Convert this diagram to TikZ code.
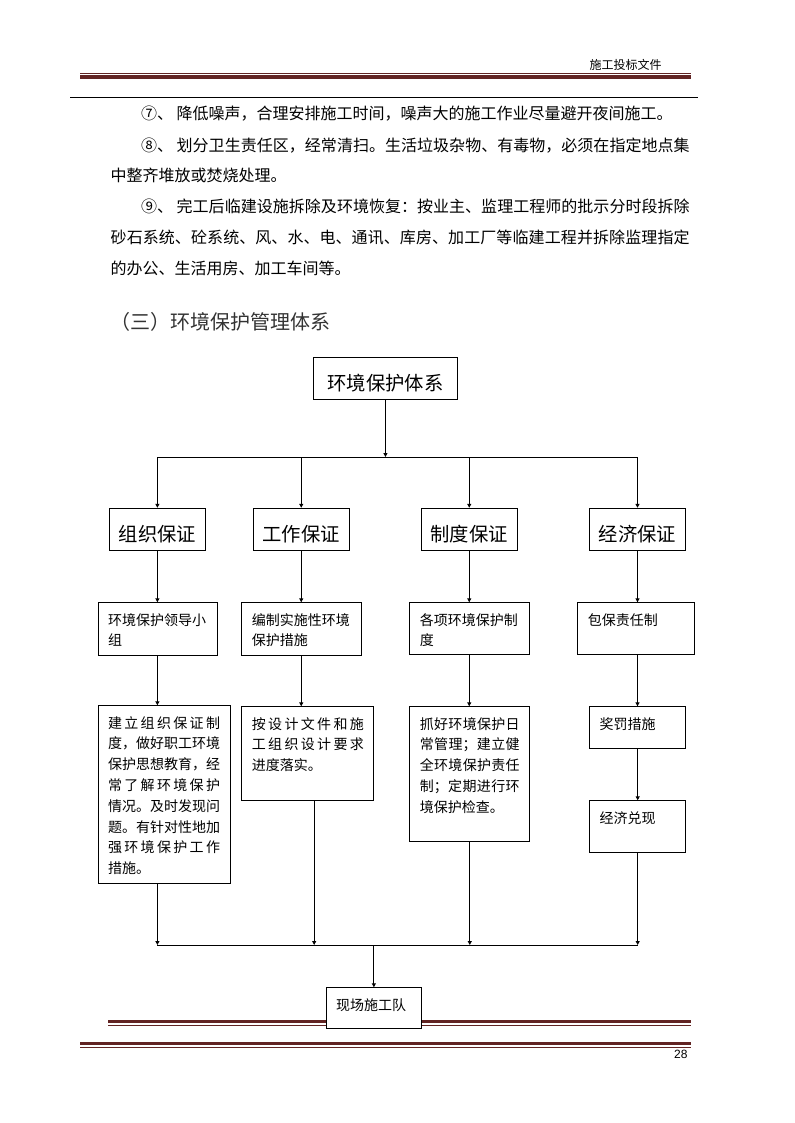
\documentclass[tikz,border=0pt]{standalone}
\usepackage{fontspec}
\setmainfont{Noto Sans CJK SC}
\newfontfamily\numfont{Liberation Sans}
\usetikzlibrary{arrows.meta}
\XeTeXlinebreaklocale "zh"
\XeTeXlinebreakskip=0pt plus 2pt minus 0.6pt
\definecolor{hdrred}{HTML}{622423}

\begin{document}
\begin{tikzpicture}[x=0.75pt,y=-0.75pt,
  arr/.style={line width=0.75pt,-{Triangle[length=3pt,width=3pt]}},
  bigbox/.style={draw,line width=0.75pt,inner sep=0pt,minimum height=31.5pt,
    text height=19pt,text depth=0pt,font=\fontsize{14.5pt}{17pt}\selectfont},
  smallbox/.style={draw,line width=0.75pt,fill=white,anchor=north west,inner xsep=7.5pt,
    inner ysep=0pt,text height=16.75pt,align=left,font=\fontsize{10.5pt}{15.6pt}\selectfont},
  para/.style={anchor=base west,inner sep=0pt,text width=434.25pt,align=justify,
    font=\fontsize{12pt}{23pt}\selectfont}]
\useasboundingbox (0,0) rectangle (794,1123);

% Header
\node[anchor=base west,inner sep=0pt,font=\fontsize{9pt}{11pt}\selectfont] (hdr) at (589.3,69.6) {施工投标文件};
\draw[hdrred,line width=0.75pt] (80,73.3) -- (690.7,73.3);
\draw[hdrred,line width=3.2pt] (80,77.2) -- (690.7,77.2);
\draw[line width=0.8pt] (70,97.3) -- (698.3,97.3);

% Text
\node[para] (p7) at (110.4,119.4) {\hspace*{22.8pt}⑦、 降低噪声，合理安排施工时间，噪声大的施工作业尽量避开夜间施工。};
\node[para] (p8) at (110.4,151.1) {\hspace*{22.8pt}⑧、 划分卫生责任区，经常清扫。生活垃圾杂物、有毒物，必须在指定地点集\linebreak 中整齐堆放或焚烧处理。};
\node[para] (p9) at (110.4,212.8) {\hspace*{22.8pt}⑨、 完工后临建设施拆除及环境恢复：按业主、监理工程师的批示分时段拆除\linebreak 砂石系统、砼系统、风、水、电、通讯、库房、加工厂等临建工程并拆除监理指定\linebreak 的办公、生活用房、加工车间等。};
\node[anchor=base west,inner sep=0pt,text=black!80,font=\fontsize{15pt}{18pt}\selectfont] (head) at (110,329.3) {（三）环境保护管理体系};

% Footer
\draw[hdrred,line width=2.5pt] (108.3,1021.7) -- (690.7,1021.7);
\draw[hdrred,line width=0.75pt] (108.3,1025.2) -- (690.7,1025.2);
\draw[hdrred,line width=2.7pt] (80,1043.5) -- (690.7,1043.5);
\draw[hdrred,line width=0.75pt] (80,1047.2) -- (690.7,1047.2);
\node[anchor=base east,inner sep=0pt,font=\numfont\fontsize{9pt}{11pt}\selectfont] (pg) at (687.7,1058.8) {28};

% Top box
\node[bigbox,minimum width=108.2pt] (T) at (385.45,378) {环境保护体系};

% Level 1
\node[bigbox,minimum width=72pt] (A1) at (157.4,529.3) {组织保证};
\node[bigbox,minimum width=72pt] (B1) at (301.25,529.3) {工作保证};
\node[bigbox,minimum width=72pt] (C1) at (469.25,529.3) {制度保证};
\node[bigbox,minimum width=72pt] (D1) at (637.5,529.3) {经济保证};

% Level 2
\node[smallbox,text width=74.85pt,text depth=23pt] (A2) at (97.5,602.3) {环境保护领导小\\组};
\node[smallbox,text width=74.8pt,text depth=23pt] (B2) at (241.4,602.3) {编制实施性环境\\保护措施};
\node[smallbox,text width=74.8pt,text depth=22.25pt] (C2) at (409.4,602.3) {各项环境保护制\\度};
\node[smallbox,text width=72.3pt,text depth=22.25pt] (D2) at (577.3,602.3) {包保责任制};

% Level 3
\node[smallbox,align=justify,text width=84pt,text depth=116.75pt] (A3) at (97.5,705.3) {建立组织保证制\linebreak 度，做好职工环境\linebreak 保护思想教育，经\linebreak 常了解环境保护\linebreak 情况。及时发现问\linebreak 题。有针对性地加\linebreak 强环境保护工作\linebreak 措施。};
\node[smallbox,align=justify,text width=84pt,text depth=53.75pt] (B3) at (241.4,706.3) {按设计文件和施\linebreak 工组织设计要求\linebreak 进度落实。};
\node[smallbox,align=justify,text width=74.8pt,text depth=84.5pt] (C3) at (409.4,706.3) {抓好环境保护日\linebreak 常管理；建立健\linebreak 全环境保护责任\linebreak 制；定期进行环\linebreak 境保护检查。};
\node[smallbox,text width=57pt,text depth=14.75pt] (D3) at (589.2,706.3) {奖罚措施};
\node[smallbox,text width=57pt,text depth=22.25pt] (E3) at (589.2,800.3) {经济兑现};

% Bottom box
\node[smallbox,text width=56.8pt,text depth=14pt] (F) at (325.5,987.3) {现场施工队};

% Upper bus
\coordinate (busL) at (157.4,457);
\coordinate (busR) at (637.5,457);
\draw[arr] (T.south) -- (T.south |- busL);
\draw[line width=0.75pt] (busL) -- (busR);
\foreach \n in {A,B,C,D} {
  \draw[arr] (\n1.north |- busL) -- (\n1.north);
  \draw[arr] (\n1.south) -- (\n1.south |- \n2.north);
  \draw[arr] (\n1.south |- \n2.south) -- (\n1.south |- \n3.north);
}
\draw[arr] (D3.south) -- (E3.north);

% Lower bus
\coordinate (busBL) at (157.4,945);
\coordinate (busBR) at (637.5,945);
\draw[arr] (A1.south |- A3.south) -- (A1.south |- busBL);
\draw[arr] ([xshift=4.7pt]B3.south) -- ([xshift=4.7pt]B3.south |- busBL);
\draw[arr] (C3.south) -- (C3.south |- busBL);
\draw[arr] (E3.south) -- (E3.south |- busBL);
\draw[line width=0.75pt] (busBL) -- (busBR);
\draw[arr] (F.north |- busBL) -- (F.north);
\end{tikzpicture}
\end{document}
